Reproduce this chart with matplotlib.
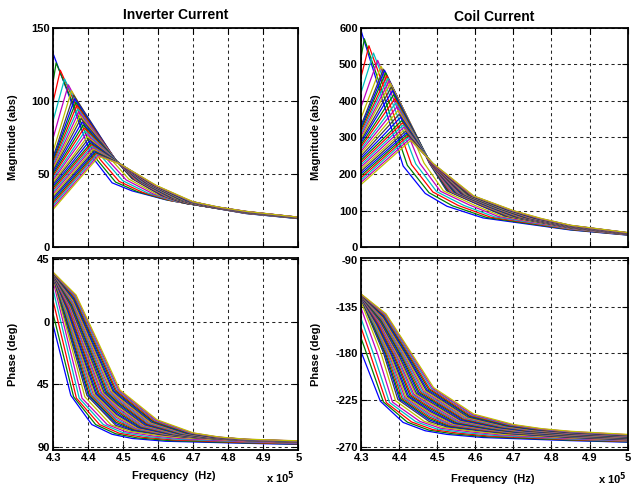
import matplotlib
matplotlib.use('Agg')
import matplotlib.pyplot as plt

plt.rcParams['font.family'] = ['Liberation Sans', 'DejaVu Sans']
plt.rcParams['font.weight'] = 'bold'

# frequency vertices of every curve, in units of 1e5 Hz (34 curves)
f_start = 4.30
f_h = [4.300, 4.304, 4.310, 4.316, 4.321, 4.326, 4.329,
       4.331, 4.332, 4.334, 4.335, 4.337, 4.338, 4.340, 4.341, 4.343, 4.344,
       4.346, 4.347, 4.349, 4.350, 4.352, 4.353, 4.354, 4.355, 4.356, 4.357,
       4.358, 4.359, 4.360, 4.361, 4.362, 4.364, 4.365]
f_peak = [4.300, 4.308, 4.320, 4.332, 4.343, 4.352, 4.358,
          4.361, 4.364, 4.367, 4.370, 4.373, 4.376, 4.379, 4.382, 4.385, 4.388,
          4.391, 4.394, 4.397, 4.400, 4.403, 4.406, 4.408, 4.410, 4.412, 4.414,
          4.416, 4.418, 4.420, 4.422, 4.424, 4.427, 4.430]
f_c3 = [4.350, 4.358, 4.366, 4.374, 4.382, 4.390, 4.396,
        4.400, 4.403, 4.407, 4.410, 4.414, 4.417, 4.421, 4.424, 4.428, 4.431,
        4.435, 4.438, 4.442, 4.445, 4.449, 4.452, 4.456, 4.459, 4.463, 4.466,
        4.470, 4.473, 4.477, 4.480, 4.484, 4.487, 4.490]
f_knee = [4.410, 4.421, 4.432, 4.443, 4.454, 4.465, 4.478,
          4.479, 4.479, 4.480, 4.480, 4.480, 4.481, 4.481, 4.482, 4.482, 4.482,
          4.483, 4.483, 4.484, 4.484, 4.485, 4.485, 4.485, 4.486, 4.486, 4.487,
          4.487, 4.487, 4.488, 4.488, 4.489, 4.489, 4.490]
f_drop = [4.468, 4.478, 4.488, 4.498, 4.508, 4.516, 4.524,
          4.527, 4.529, 4.532, 4.535, 4.537, 4.540, 4.543, 4.545, 4.548, 4.551,
          4.553, 4.556, 4.559, 4.561, 4.564, 4.567, 4.569, 4.572, 4.575, 4.577,
          4.580, 4.583, 4.585, 4.588, 4.591, 4.593, 4.596]
f_e = [4.525, 4.540, 4.555, 4.570, 4.585, 4.597, 4.608,
       4.611, 4.615, 4.618, 4.622, 4.625, 4.628, 4.632, 4.635, 4.639, 4.642,
       4.645, 4.649, 4.652, 4.656, 4.659, 4.662, 4.666, 4.669, 4.673, 4.676,
       4.679, 4.683, 4.686, 4.690, 4.693, 4.696, 4.700]
f_f = [4.620, 4.630, 4.640, 4.650, 4.660, 4.668, 4.675,
       4.679, 4.682, 4.686, 4.690, 4.694, 4.697, 4.701, 4.705, 4.708, 4.712,
       4.716, 4.719, 4.723, 4.727, 4.731, 4.734, 4.738, 4.742, 4.745, 4.749,
       4.753, 4.756, 4.760, 4.764, 4.768, 4.771, 4.775]
f_tail = [4.85, 5.00]

# inverter current magnitude (abs) at the vertices above
im_start = [132, 114, 100, 87, 75, 66, 62,
            60.7, 59.3, 58.0, 56.7, 55.3, 54.0, 52.7, 51.3, 50.0, 48.7, 47.3, 46.0, 44.7,
            43.3, 42.0, 40.7, 39.3, 38.0, 36.7, 35.3, 34.0, 32.7, 31.3, 30.0, 28.7, 27.3, 26.0]
im_h = [132, 120, 110.5, 101, 93, 86.5, 83,
        81.1, 79.2, 77.5, 75.6, 73.9, 72, 70.4, 68.4, 66.8, 65.1, 63.4, 61.8, 60.1,
        58.7, 57.3, 55.9, 54.7, 53.5, 52.4, 51.2, 50, 49, 47.9, 46.9, 46, 45, 44]
im_peak = [132, 126, 121, 115, 111, 107, 104,
           101.5, 99, 97, 94.5, 92.5, 90, 88, 85.5, 83.5, 81.5, 79.5, 77.5, 75.5,
           74, 72.5, 71, 70, 69, 68, 67, 66, 65.2, 64.5, 63.8, 63.2, 62.6, 62]
im_c3 = [100.2, 97.2, 96.2, 94.4, 93.1, 91.2, 89.9,
         87.6, 85.5, 83.6, 81.6, 79.7, 77.9, 76, 74.2, 72.5, 71, 69.4, 68, 66.6,
         65.5, 64.4, 63.4, 62.4, 61.7, 60.8, 60.2, 59.5, 58.9, 58.5, 58, 57.6, 57.3, 57]
im_knee = [62, 61, 60.5, 60.5, 60, 60, 59.5,
           59.4, 59.3, 59.2, 59.1, 59, 58.9, 58.8, 58.7, 58.6, 58.5, 58.4, 58.3, 58.2,
           58.1, 58, 57.9, 57.8, 57.7, 57.6, 57.5, 57.4, 57.3, 57.3, 57.2, 57.1, 57.1, 57]
im_drop = [44, 44.5, 45, 45.5, 46, 46.5, 47,
           46.8, 46.6, 46.4, 46.3, 46.1, 45.9, 45.7, 45.5, 45.3, 45.1, 44.9, 44.8, 44.6,
           44.4, 44.2, 44.0, 43.8, 43.6, 43.4, 43.3, 43.1, 42.9, 42.7, 42.5, 42.3, 42.1, 42.0]
im_e = [38.5, 38, 37.5, 37, 36.5, 36, 35.5,
        35.3, 35.2, 35.0, 34.8, 34.7, 34.5, 34.3, 34.2, 34.0, 33.8, 33.7, 33.5, 33.3,
        33.2, 33.0, 32.8, 32.7, 32.5, 32.3, 32.2, 32.0, 31.8, 31.7, 31.5, 31.3, 31.2, 31.0]
im_f = [32.5, 32, 31.6, 31.2, 30.8, 30.4, 30,
        29.9, 29.8, 29.7, 29.6, 29.5, 29.4, 29.3, 29.2, 29.1, 29.0, 28.9, 28.8, 28.7,
        28.6, 28.5, 28.4, 28.3, 28.2, 28.1, 28.0, 27.9, 27.8, 27.7, 27.6, 27.5, 27.4, 27.3]
im_485 = [23.0, 23.1, 23.2, 23.3, 23.4, 23.5, 23.6,
          23.6, 23.7, 23.7, 23.7, 23.8, 23.8, 23.8, 23.9, 23.9, 23.9, 24.0, 24.0, 24.0,
          24.1, 24.1, 24.1, 24.2, 24.2, 24.2, 24.3, 24.3, 24.3, 24.4, 24.4, 24.4, 24.5, 24.5]
im_500 = [19.5, 19.6, 19.7, 19.7, 19.8, 19.8, 19.9,
          19.9, 19.9, 19.9, 20.0, 20.0, 20.0, 20.0, 20.1, 20.1, 20.1, 20.1, 20.2, 20.2,
          20.2, 20.2, 20.3, 20.3, 20.3, 20.3, 20.4, 20.4, 20.4, 20.4, 20.5, 20.5, 20.5, 20.5]

# inverter current phase (deg)
ip_start = [-3, 5, 14.5, 22.5, 28.5, 31, 32,
            32.1, 32.3, 32.4, 32.5, 32.6, 32.8, 32.9, 33.0, 33.2, 33.3, 33.4, 33.5, 33.7,
            33.8, 33.9, 34.0, 34.2, 34.3, 34.4, 34.6, 34.7, 34.8, 34.9, 35.1, 35.2, 35.3, 35.5]
ip_h = [-3, 0.9, 4.0, 5.7, 7.1, 6.4, 6.3,
        6.7, 6.8, 7.2, 7.4, 7.8, 8.0, 8.5, 8.8, 9.2, 9.5, 10.0, 10.3, 10.8,
        11.2, 11.7, 12.0, 12.9, 13.5, 14.2, 14.9, 15.8, 16.4, 17.1, 17.7, 18.5, 18.8, 19.3]
ip_peak = [-3, -3.1, -6.6, -11.0, -15.3, -18.1, -19.3,
           -19.5, -20.0, -20.1, -20.5, -20.5, -21.0, -20.8, -21.2, -21.0, -21.3, -21.1, -21.3, -21.1,
           -21.2, -21.0, -21.1, -20.3, -20.0, -19.1, -18.7, -17.9, -17.6, -16.9, -16.4, -15.8, -15.7, -15.8]
ip_c3 = [-53, -54, -55, -55, -55, -54, -53,
         -52.85, -52.7, -52.56, -52.4, -52.26, -52.1, -51.96, -51.8, -51.67, -51.5, -51.37, -51.2, -51.07,
         -50.9, -50.78, -50.6, -50.48, -50.33, -50.19, -50.04, -49.9, -49.74, -49.6, -49.44, -49.3, -49.15, -49.0]
ip_knee = [-74, -74, -74, -74, -74, -74.2, -74.5,
           -73.4, -72.3, -71.2, -70.1, -68.8, -68.0, -66.8, -66.0, -64.8, -63.7, -62.8, -61.8, -60.9,
           -59.9, -59.0, -58.1, -57.0, -56.3, -55.3, -54.6, -53.6, -52.7, -51.9, -51.1, -50.3, -49.6, -49.0]
ip_drop = [-81, -80.6, -80.2, -79.7, -79.2, -78.7, -78.2,
           -77.9, -77.6, -77.3, -77.1, -76.8, -76.5, -76.2, -75.9, -75.6, -75.4, -75.1, -74.8, -74.5,
           -74.2, -73.9, -73.6, -73.4, -73.1, -72.8, -72.5, -72.2, -71.9, -71.7, -71.4, -71.1, -70.8, -70.5]
ip_e = [-84, -83.6, -83.1, -82.7, -82.2, -81.8, -81.3,
        -81.25, -81.2, -81.15, -81.1, -81.05, -81.0, -80.95, -80.9, -80.85, -80.8, -80.75, -80.7, -80.65,
        -80.6, -80.55, -80.5, -80.45, -80.4, -80.35, -80.3, -80.25, -80.2, -80.15, -80.1, -80.05, -80.0, -80.0]
ip_f = [-86, -85.5, -85, -84.5, -84, -83.5, -83,
        -83, -83, -83, -83, -83, -83, -83, -83, -83, -83, -83, -83, -83,
        -83, -83, -83, -83, -83, -83, -83, -83, -83, -83, -83, -83, -83, -83]
ip_485 = [-87.5, -87.2, -86.9, -86.5, -86.2, -85.8, -85.5,
          -85.5, -85.4, -85.4, -85.4, -85.3, -85.3, -85.3, -85.2, -85.2, -85.2, -85.1, -85.1, -85.1,
          -85.0, -85.0, -85.0, -84.9, -84.9, -84.9, -84.8, -84.8, -84.8, -84.7, -84.7, -84.7, -84.6, -84.5]
ip_500 = [-88.3, -88.0, -87.8, -87.5, -87.3, -87.0, -86.8,
          -86.8, -86.7, -86.7, -86.7, -86.6, -86.6, -86.6, -86.5, -86.5, -86.5, -86.4, -86.4, -86.4,
          -86.3, -86.3, -86.3, -86.2, -86.2, -86.2, -86.1, -86.1, -86.0, -86.0, -85.9, -85.9, -85.8, -85.7]

# coil current magnitude (abs)
cm_start = [590, 523, 468, 425, 385, 355, 335,
            329, 323, 317, 311, 305, 299, 293, 287, 281, 275, 269, 263, 257,
            250, 244, 238, 232, 226, 220, 214, 208, 202, 196, 190, 184, 178, 172]
cm_h = [590, 546.5, 509.5, 478, 448, 425, 411,
        406.5, 400, 393, 386.5, 380, 373.5, 365.5, 357.5, 349, 340.5, 332, 323.5, 315.5,
        307, 299.5, 292, 286, 280, 274, 268, 262.5, 257, 252, 247, 242, 237, 232]
cm_peak = [590, 570, 551, 531, 511, 495, 487,
           484, 477, 469, 462, 455, 448, 438, 428, 417, 406, 395, 384, 374,
           364, 355, 346, 340, 334, 328, 322, 317, 312, 308, 304, 300, 296, 292]
cm_c3 = [422.7, 416.9, 417.5, 416.4, 411.9, 405.9, 405.9,
         400.4, 393.6, 384.7, 377.7, 369, 363.2, 352.5, 344.8, 334.2, 325.5, 316.1, 307.7, 299.3,
         291.9, 284.6, 277.9, 270.8, 266.3, 259.8, 255.4, 249.7, 245.5, 241.4, 237.2, 233.5, 230.2, 228]
cm_knee = [222, 224, 226, 228, 229, 230, 231,
           231, 231, 231, 230.5, 230.5, 230.5, 230.5, 230, 230, 230, 230, 229.5, 229.5,
           229.5, 229.5, 229, 229, 229, 229, 228.5, 228.5, 228.5, 228.5, 228, 228, 228, 228]
cm_drop = [147, 149, 151, 152, 153, 154, 155,
           154.4, 153.9, 153.3, 152.8, 152.2, 151.7, 151.1, 150.6, 150, 149.4, 148.9, 148.3, 147.8,
           147.2, 146.7, 146.1, 145.6, 145, 144.4, 143.9, 143.3, 142.8, 142.2, 141.7, 141.1, 140.6, 140]
cm_e = [112, 113, 114, 114, 115, 115, 116,
        115.4, 114.8, 114.2, 113.6, 113, 112.4, 111.9, 111.3, 110.7, 110.1, 109.5, 108.9, 108.3,
        107.7, 107.1, 106.5, 105.9, 105.3, 104.7, 104.1, 103.6, 103, 102.4, 101.8, 101.2, 100.6, 100]
cm_f = [80, 81, 82, 83, 84, 85, 86,
        85.7, 85.4, 85.1, 84.8, 84.5, 84.2, 83.9, 83.6, 83.3, 83.0, 82.7, 82.4, 82.1,
        81.8, 81.5, 81.2, 80.9, 80.6, 80.3, 80.0, 79.7, 79.4, 79.1, 78.8, 78.5, 78.2, 78.0]
cm_485 = [47, 48, 49, 50, 51, 52, 53,
          53.3, 53.5, 53.8, 54.0, 54.3, 54.6, 54.8, 55.1, 55.3, 55.6, 55.9, 56.1, 56.4,
          56.6, 56.9, 57.1, 57.4, 57.7, 57.9, 58.2, 58.4, 58.7, 59.0, 59.2, 59.5, 59.7, 60.0]
cm_500 = [33, 33.5, 34, 34.5, 35, 35.3, 35.6,
          35.8, 36.0, 36.1, 36.3, 36.4, 36.6, 36.7, 36.9, 37.1, 37.2, 37.4, 37.5, 37.7,
          37.9, 38.0, 38.2, 38.3, 38.5, 38.6, 38.8, 39.0, 39.1, 39.3, 39.4, 39.6, 39.7, 40.0]

# coil current phase (deg)
cp_start = [-179, -166, -156, -147, -137, -131, -128,
            -127.8, -127.6, -127.4, -127.3, -127.1, -126.9, -126.7, -126.6, -126.3, -126.1, -126.0, -125.8, -125.6,
            -125.4, -125.3, -125.1, -124.9, -124.7, -124.5, -124.3, -124.1, -124.0, -123.8, -123.6, -123.4, -123.3, -123.0]
cp_h = [-179, -170.1, -166.5, -163.8, -158.4, -155.6, -153.7,
        -153.4, -153.3, -152.9, -152.8, -152.4, -152.3, -151.8, -151.6, -151.2, -151.0, -150.5, -150.3, -149.8,
        -149.5, -149.0, -148.8, -147.9, -147.4, -146.7, -146.1, -145.2, -144.7, -144.0, -143.5, -142.7, -142.5, -142.0]
cp_peak = [-179, -174.1, -177.1, -180.5, -180.8, -180.1, -179.3,
           -179.6, -180.2, -180.4, -180.9, -181.1, -181.7, -181.6, -182.1, -182.0, -182.4, -182.3, -182.6, -182.5,
           -182.8, -182.7, -182.9, -182.2, -182.0, -181.2, -180.9, -180.2, -180.0, -179.5, -179.1, -178.6, -178.6, -178.8]
cp_c3 = [-226, -226.7, -227.5, -227.2, -226.9, -225.6, -224.4,
         -223.9, -223.5, -223.1, -222.7, -222.3, -221.8, -221.4, -221.0, -220.6, -220.1, -219.7, -219.3, -218.9,
         -218.5, -218.1, -217.6, -217.2, -216.8, -216.4, -216.0, -215.5, -215.1, -214.7, -214.3, -213.9, -213.4, -213.0]
cp_knee = [-246.5, -246.2, -246.0, -245.7, -245.5, -245.4, -245.5,
           -244.1, -242.7, -241.4, -240.0, -238.5, -237.4, -236.0, -234.9, -233.4, -232.1, -230.9, -229.7, -228.5,
           -227.3, -226.1, -224.9, -223.6, -222.6, -221.4, -220.4, -219.2, -218.0, -216.9, -215.9, -214.8, -213.9, -213.0]
cp_drop = [-254.5, -253.9, -253.4, -252.7, -252.0, -251.4, -250.7,
           -250.2, -249.8, -249.3, -248.9, -248.5, -248.0, -247.5, -247.1, -246.6, -246.2, -245.8, -245.3, -244.8,
           -244.4, -243.9, -243.4, -243.1, -242.6, -242.1, -241.7, -241.2, -240.7, -240.4, -239.9, -239.4, -239.0, -238.5]
cp_e = [-258.0, -257.4, -256.8, -256.2, -255.5, -255.0, -254.3,
        -254.1, -253.9, -253.7, -253.4, -253.2, -253.0, -252.8, -252.6, -252.4, -252.1, -251.9, -251.7, -251.5,
        -251.3, -251.1, -250.8, -250.6, -250.4, -250.2, -250.0, -249.8, -249.5, -249.3, -249.1, -248.9, -248.7, -248.5]
cp_f = [-261.0, -260.3, -259.7, -259.0, -258.3, -257.7, -257.0,
        -256.8, -256.7, -256.5, -256.3, -256.2, -256.0, -255.8, -255.7, -255.5, -255.3, -255.2, -255.0, -254.8,
        -254.7, -254.5, -254.3, -254.2, -254.0, -253.8, -253.7, -253.5, -253.3, -253.2, -253.0, -252.8, -252.7, -252.5]
cp_485 = [-264.0, -263.5, -263.0, -262.5, -262.0, -261.4, -260.9,
          -260.7, -260.5, -260.3, -260.1, -259.8, -259.6, -259.4, -259.2, -259.0, -258.8, -258.5, -258.3, -258.2,
          -257.9, -257.7, -257.5, -257.2, -257.0, -256.9, -256.6, -256.4, -256.2, -255.9, -255.8, -255.6, -255.3, -255.0]
cp_500 = [-265.5, -265.1, -264.7, -264.3, -263.9, -263.5, -263.1,
          -263.0, -262.7, -262.6, -262.4, -262.2, -262.0, -261.9, -261.6, -261.5, -261.3, -261.1, -260.9, -260.8,
          -260.5, -260.4, -260.2, -260.0, -259.8, -259.7, -259.4, -259.3, -259.0, -258.9, -258.6, -258.5, -258.3, -258.0]

# matlab's old default line colour order
line_colors = [(0, 0, 1), (0, 0.5, 0), (1, 0, 0), (0, 0.75, 0.75),
               (0.75, 0, 0.75), (0.75, 0.75, 0), (0.25, 0.25, 0.25)]

freq_ticks = [4.3, 4.4, 4.5, 4.6, 4.7, 4.8, 4.9, 5.0]
freq_labels = ['4.3', '4.4', '4.5', '4.6', '4.7', '4.8', '4.9', '5']
inv_mag_ticks = [0, 50, 100, 150]
coil_mag_ticks = [0, 100, 200, 300, 400, 500, 600]
inv_ph_ticks = [45, 0, -45, -90]
inv_ph_labels = ['45', '0', '45', '90']
coil_ph_ticks = [-90, -135, -180, -225, -270]
coil_ph_labels = ['-90', '-135', '-180', '-225', '-270']


def draw_family(ax, cols):
    for i in range(len(f_peak)):
        xs = [f_start, f_h[i], f_peak[i], f_c3[i], f_knee[i], f_drop[i], f_e[i], f_f[i]] + f_tail
        ys = [c[i] for c in cols]
        ax.plot(xs, ys, color=line_colors[i % 7], lw=0.9)


def style(ax, yticks, ylabels, ylim, show_x, ylab):
    ax.set_xlim(4.3, 5.0)
    ax.set_ylim(*ylim)
    ax.set_xticks(freq_ticks)
    ax.set_xticklabels(freq_labels if show_x else [])
    ax.set_yticks(yticks)
    ax.set_yticklabels(ylabels)
    ax.tick_params(direction='in', top=True, right=True, length=4, width=0.8,
                   labelsize=8, pad=2.5)
    ax.grid(True, color='0.15', linestyle=(0, (3, 3)), linewidth=0.75)
    for s in ax.spines.values():
        s.set_linewidth(1.3)
    ax.set_ylabel(ylab, fontsize=8, fontweight='bold')


fig = plt.figure(figsize=(6.37, 4.88), dpi=100)
ax1 = fig.add_axes([0.0837, 0.4935, 0.3846, 0.4495])
ax2 = fig.add_axes([0.5672, 0.4935, 0.4180, 0.4495])
ax3 = fig.add_axes([0.0837, 0.0779, 0.3846, 0.3928])
ax4 = fig.add_axes([0.5672, 0.0779, 0.4180, 0.3928])

draw_family(ax1, [im_start, im_h, im_peak, im_c3, im_knee, im_drop, im_e, im_f, im_485, im_500])
draw_family(ax2, [cm_start, cm_h, cm_peak, cm_c3, cm_knee, cm_drop, cm_e, cm_f, cm_485, cm_500])
draw_family(ax3, [ip_start, ip_h, ip_peak, ip_c3, ip_knee, ip_drop, ip_e, ip_f, ip_485, ip_500])
draw_family(ax4, [cp_start, cp_h, cp_peak, cp_c3, cp_knee, cp_drop, cp_e, cp_f, cp_485, cp_500])

style(ax1, inv_mag_ticks, [str(t) for t in inv_mag_ticks], (0, 150), False, 'Magnitude (abs)')
style(ax2, coil_mag_ticks, [str(t) for t in coil_mag_ticks], (0, 600), False, 'Magnitude (abs)')
style(ax3, inv_ph_ticks, inv_ph_labels, (-92.3, 45.7), True, 'Phase (deg)')
style(ax4, coil_ph_ticks, coil_ph_labels, (-273, -88.5), True, 'Phase (deg)')

ax1.yaxis.set_label_coords(-0.144, 0.5)
ax3.yaxis.set_label_coords(-0.144, 0.5)
ax2.yaxis.set_label_coords(-0.151, 0.5)
ax4.yaxis.set_label_coords(-0.151, 0.5)

ax3.set_xlabel('Frequency  (Hz)', fontsize=8, fontweight='bold')
ax4.set_xlabel('Frequency  (Hz)', fontsize=8, fontweight='bold')
ax3.xaxis.set_label_coords(0.493, -0.112)
ax4.xaxis.set_label_coords(0.495, -0.127)

ax1.set_title('Inverter Current', fontsize=10, fontweight='bold', pad=6)
ax2.set_title('Coil Current', fontsize=10, fontweight='bold', pad=5)

fig.text(0.462, 0.012, 'x 10$^5$', fontsize=8, fontweight='bold', ha='right', va='baseline')
fig.text(0.983, 0.010, 'x 10$^5$', fontsize=8, fontweight='bold', ha='right', va='baseline')

fig.savefig('out.png', dpi=100)
